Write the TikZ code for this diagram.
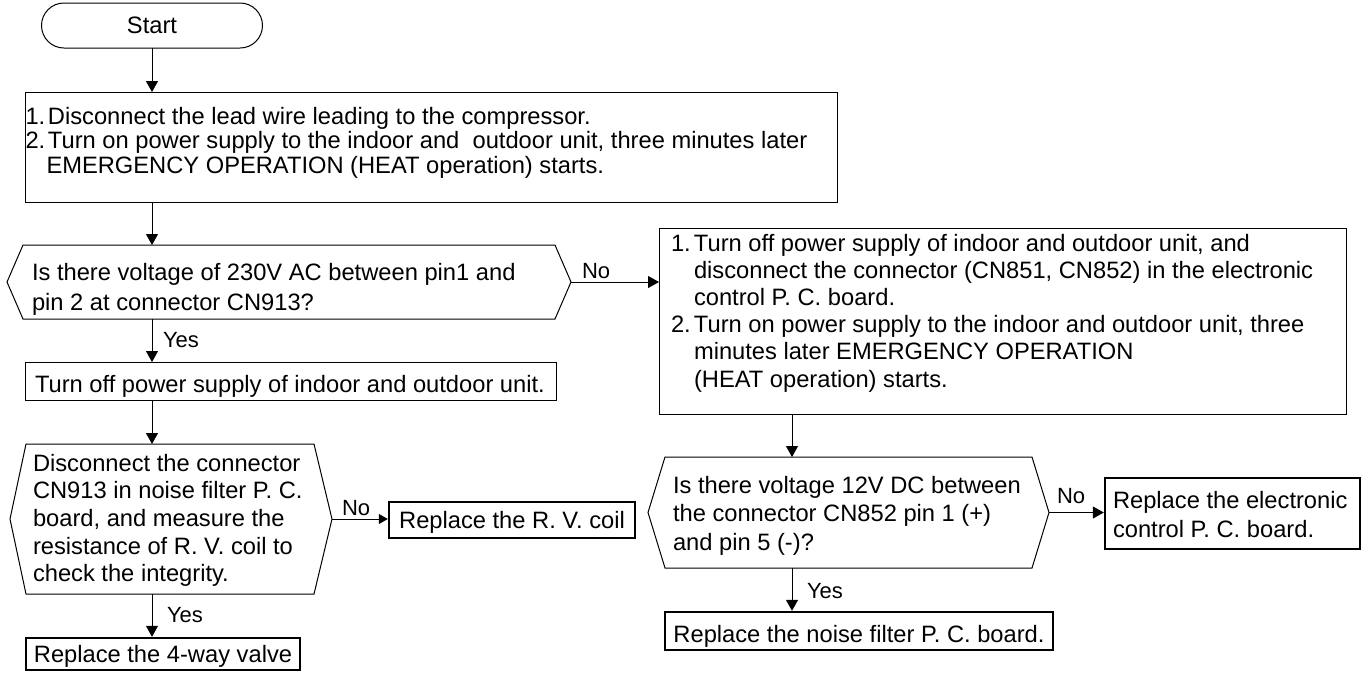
\documentclass[tikz,border=0pt]{standalone}
\usepackage{fontspec}
\setmainfont{Liberation Sans}
\usetikzlibrary{arrows.meta,calc}
\newcommand{\hexframe}[3]{%
  \draw[line width=1pt, line join=miter] (#1.west) -- ([xshift=#2]#1.north west) -- ([xshift=-#3]#1.north east) -- (#1.east) -- ([xshift=-#3]#1.south east) -- ([xshift=#2]#1.south west) -- cycle;}
\begin{document}
\begin{tikzpicture}[x=1pt,y=-1pt,
  every node/.style={inner sep=0pt, outer sep=0pt},
  box/.style={draw, line width=1pt, rectangle},
  thickbox/.style={draw, line width=2.4pt, rectangle, outer sep=1.2pt},
  frame/.style={rectangle, draw=none},
  txt/.style={font=\fontsize{23.7pt}{#1}\selectfont},
  txt/.default={27.5pt},
  lbl/.style={font=\fontsize{22pt}{24pt}\selectfont},
  arr/.style={line width=1pt, -{Triangle[length=11pt,width=12pt]}},
  sarr/.style={line width=1pt, -{Triangle[length=9pt,width=10pt]}}]
\fill[white] (0,0) rectangle (1370,673);
\useasboundingbox (0,0) rectangle (1370,673);

% Start
\node[box, minimum width=221pt, minimum height=45pt, rounded corners=22.5pt] (start) at (152,25.5) {};
\node[txt, anchor=base] (starttxt) at (152,33) {Start};

% Box 1
\node[box, minimum width=812pt, minimum height=110pt] (b1) at (431,147) {};
\node[txt=24.5pt, anchor=base west] (b1t) at (25.5,124) {\begin{tabular}[t]{@{}l@{}}%
\makebox[22.5pt][l]{1.}Disconnect the lead wire leading to the compressor.\\
\makebox[22.5pt][l]{2.}Turn on power supply to the indoor and~ outdoor unit, three minutes later\\
\hspace*{21pt}EMERGENCY OPERATION (HEAT operation) starts.\end{tabular}};

% Decision 1
\node[frame, minimum width=564pt, minimum height=74pt] (d1) at (289,282) {};
\hexframe{d1}{16pt}{16pt}
\node[txt=30pt, anchor=base west] (d1t) at (32,280) {\begin{tabular}[t]{@{}l@{}}%
Is there voltage of 230V AC between pin1 and\\
pin 2 at connector CN913?\end{tabular}};

% Box 2 (right)
\node[box, minimum width=687pt, minimum height=186pt] (b2) at (1002.5,321) {};
\node[txt=27.2pt, anchor=base west] (b2t) at (671,251) {\begin{tabular}[t]{@{}l@{}}%
\makebox[23pt][l]{1.}Turn off power supply of indoor and outdoor unit, and\\
\hspace*{23pt}disconnect the connector (CN851, CN852) in the electronic\\
\hspace*{23pt}control P. C. board.\\
\makebox[23pt][l]{2.}Turn on power supply to the indoor and outdoor unit, three\\
\hspace*{23pt}minutes later EMERGENCY OPERATION\\
\hspace*{23pt}(HEAT operation) starts.\end{tabular}};

% Box 3
\node[box, minimum width=531pt, minimum height=38pt] (b3) at (290.5,381) {};
\node[txt, anchor=base west] (b3t) at (35,392) {Turn off power supply of indoor and outdoor unit.};

% Decision 2
\node[frame, minimum width=322pt, minimum height=150pt] (d2) at (171,519) {};
\hexframe{d2}{16pt}{18pt}
\node[txt=27.7pt, anchor=base west] (d2t) at (33,471) {\begin{tabular}[t]{@{}l@{}}%
Disconnect the connector\\
CN913 in noise filter P. C.\\
board, and measure the\\
resistance of R. V. coil to\\
check the integrity.\end{tabular}};

% R.V. coil box
\node[thickbox, minimum width=246pt, minimum height=36pt] (rv) at (512,520) {};
\node[txt, anchor=base] (rvt) at (512,528) {Replace the R. V. coil};

% 4-way valve box
\node[thickbox, minimum width=274pt, minimum height=32pt] (valve) at (163,654) {};
\node[txt, anchor=base] (valvet) at (163,662) {Replace the 4-way valve};

% Decision 3
\node[frame, minimum width=401pt, minimum height=111pt] (d3) at (848.5,512.5) {};
\hexframe{d3}{17pt}{17pt}
\node[txt=28.5pt, anchor=base west] (d3t) at (673,493) {\begin{tabular}[t]{@{}l@{}}%
Is there voltage 12V DC between\\
the connector CN852 pin 1 (+)\\
and pin 5 (-)?\end{tabular}};

% Electronic box
\node[thickbox, minimum width=255pt, minimum height=71pt] (elec) at (1232.5,513.5) {};
\node[txt=29pt, anchor=base west] (elect) at (1113,508) {\begin{tabular}[t]{@{}l@{}}%
Replace the electronic\\
control P. C. board.\end{tabular}};

% Noise filter box
\node[thickbox, minimum width=388pt, minimum height=38pt] (noise) at (859,631) {};
\node[txt, anchor=base] (noiset) at (859,642) {Replace the noise filter P. C. board.};

% connector helpers
\coordinate (lx) at (152,0);
\coordinate (rx) at (792,0);

% connectors
\draw[arr] (start.south -| lx) -- (b1.north -| lx);
\draw[arr] (b1.south -| lx) -- (d1.north -| lx);
\draw[arr] (d1.east) -- (b2.west |- d1.east);
\draw[arr] (d1.south -| lx) -- (b3.north -| lx);
\draw[arr] (b3.south -| lx) -- (d2.north -| lx);
\draw[sarr] (d2.east) -- (rv.west |- d2.east);
\draw[arr] (d2.south -| lx) -- (valve.north -| lx);
\draw[arr] (b2.south -| rx) -- (d3.north -| rx);
\draw[arr] (d3.east) -- (elec.west |- d3.east);
\draw[arr] (d3.south -| rx) -- (noise.north -| rx);

% labels
\node[lbl, anchor=base west] (no1) at (582,278) {No};
\node[lbl, anchor=base west] (yes1) at (163,347) {Yes};
\node[lbl, anchor=base west] (no2) at (342,515) {No};
\node[lbl, anchor=base west] (yes2) at (167,622) {Yes};
\node[lbl, anchor=base west] (no3) at (1057,503) {No};
\node[lbl, anchor=base west] (yes3) at (807,598) {Yes};
\end{tikzpicture}
\end{document}
